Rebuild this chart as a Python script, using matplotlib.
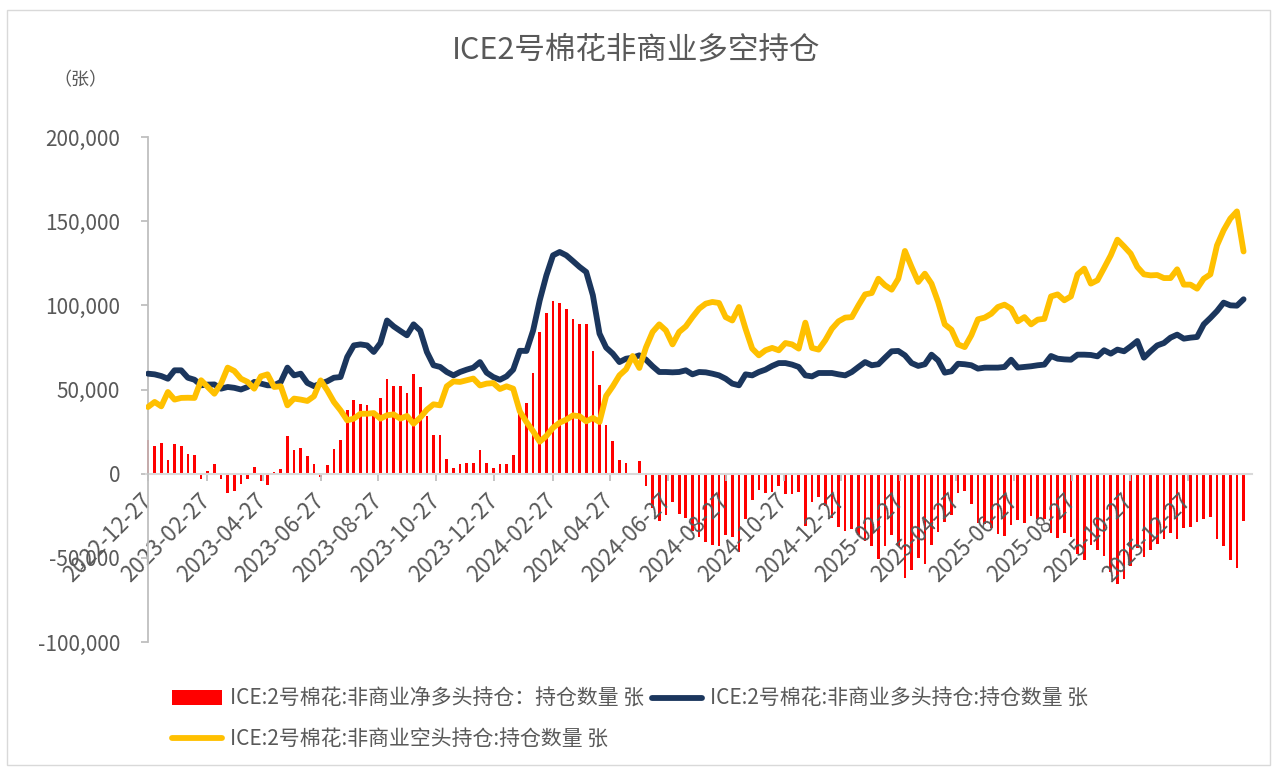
import numpy as np
import pandas as pd
import matplotlib
matplotlib.use('Agg')
import matplotlib.pyplot as plt
import matplotlib.dates as mdates
from matplotlib.patches import Rectangle

plt.rcParams['font.family'] = ['Noto Sans CJK SC', 'DejaVu Sans']
plt.rcParams['axes.unicode_minus'] = False

TEXT = '#595959'
AXIS = '#BFBFBF'

title = 'ICE2号棉花非商业多空持仓'
unit = '（张）'
label_net = 'ICE:2号棉花:非商业净多头持仓：持仓数量 张'
label_long = 'ICE:2号棉花:非商业多头持仓:持仓数量 张'
label_short = 'ICE:2号棉花:非商业空头持仓:持仓数量 张'

# weekly reports starting on this date, values in thousand contracts
first_week = '2022-12-27'

long_k = [59.4, 59.0, 58.0, 56.4, 61.4, 61.4, 57.0, 55.8, 52.5, 52.9,
          53.0, 50.5, 51.5, 51.0, 50.0, 51.5, 54.5, 53.5, 52.5, 52.5,
          54.5, 63.0, 58.4, 59.4, 53.9, 52.0, 53.5, 54.9, 57.0, 57.4,
          69.3, 76.2, 76.8, 76.2, 72.3, 77.6, 91.0, 87.5, 84.8, 82.2,
          88.7, 85.0, 72.3, 64.4, 63.4, 60.4, 58.4, 60.4, 61.8, 63.0,
          66.3, 60.0, 57.4, 55.8, 57.8, 61.8, 73.0, 72.9, 85.0, 103.0,
          117.8, 129.7, 131.7, 129.7, 126.3, 122.8, 119.8, 106.0, 83.2, 74.9,
          71.3, 66.3, 68.3, 68.9, 70.3, 67.7, 63.8, 60.4, 60.4, 60.2,
          60.4, 61.4, 59.0, 60.4, 60.2, 59.4, 58.4, 56.4, 53.5, 52.5,
          59.0, 58.4, 60.4, 61.8, 64.0, 65.7, 65.7, 64.8, 63.4, 58.4,
          57.8, 59.8, 59.8, 59.8, 59.0, 58.4, 60.4, 63.4, 66.3, 64.4,
          65.0, 68.9, 72.7, 72.9, 70.3, 65.7, 64.0, 65.0, 70.7, 67.3,
          60.0, 60.8, 65.3, 65.0, 64.4, 62.4, 63.0, 63.0, 63.0, 63.4,
          67.7, 63.0, 63.4, 63.8, 64.4, 64.8, 69.9, 68.3, 67.9, 67.7,
          70.7, 70.7, 70.5, 69.7, 73.3, 71.3, 73.7, 72.7, 75.6, 78.8,
          68.9, 72.7, 76.2, 77.6, 80.8, 82.6, 80.2, 80.8, 81.2, 88.7,
          92.5, 96.6, 101.6, 100.0, 99.8, 103.6]

short_k = [39.6, 42.6, 40.0, 48.5, 44.0, 45.0, 45.1, 45.0, 55.5, 51.5,
           47.5, 53.5, 63.0, 61.0, 56.4, 54.5, 50.5, 57.8, 59.0, 51.5,
           51.9, 40.6, 44.6, 44.0, 43.2, 46.0, 55.4, 49.5, 42.6, 37.6,
           31.7, 32.7, 35.6, 35.6, 36.0, 32.7, 34.7, 35.2, 32.7, 34.3,
           29.7, 33.3, 38.0, 41.2, 40.6, 51.9, 54.8, 54.5, 55.5, 56.5,
           52.4, 53.5, 53.8, 50.3, 51.9, 50.5, 37.0, 30.7, 25.2, 19.0,
           22.4, 27.3, 30.3, 32.1, 34.6, 34.1, 31.1, 33.1, 30.7, 46.2,
           51.9, 58.4, 62.0, 69.9, 62.8, 75.0, 84.2, 88.7, 85.1, 76.8,
           84.2, 87.5, 93.0, 98.0, 101.0, 102.0, 101.4, 93.0, 91.0, 99.0,
           86.0, 74.3, 70.3, 73.3, 74.7, 73.3, 77.6, 76.8, 74.3, 89.7,
           74.7, 73.7, 79.2, 86.1, 90.5, 92.7, 93.0, 100.0, 106.5, 107.3,
           115.8, 111.9, 109.3, 115.8, 132.3, 122.8, 113.9, 118.8, 112.9, 102.0,
           88.7, 85.5, 76.8, 75.2, 82.2, 91.7, 92.7, 95.0, 99.0, 100.4,
           98.0, 90.5, 93.0, 88.7, 91.5, 92.0, 105.3, 106.5, 103.0, 105.3,
           118.4, 121.8, 112.9, 114.9, 122.2, 129.7, 139.0, 135.0, 130.7, 122.8,
           118.4, 117.8, 118.0, 116.2, 116.2, 121.4, 112.3, 112.3, 109.9, 115.8,
           118.4, 135.6, 144.6, 151.5, 155.8, 132.0]

net_k = [19.8, 16.4, 18.0, 7.9, 17.4, 16.4, 11.9, 10.8, -3.0, 1.4,
         5.5, -3.0, -11.5, -10.0, -6.4, -3.0, 4.0, -4.3, -6.5, 1.0,
         2.6, 22.4, 13.8, 15.4, 10.7, 6.0, -1.9, 5.4, 14.4, 19.8,
         37.6, 43.5, 41.2, 40.6, 36.3, 44.9, 56.3, 52.3, 52.1, 47.9,
         59.0, 51.7, 34.3, 23.2, 22.8, 8.5, 3.6, 5.9, 6.3, 6.5,
         13.9, 6.5, 3.6, 5.5, 5.9, 11.3, 36.0, 42.2, 59.8, 84.0,
         95.4, 102.4, 101.4, 97.6, 91.7, 88.7, 88.7, 72.9, 52.5, 28.7,
         19.4, 7.9, 6.3, -1.0, 7.5, -7.3, -20.4, -28.3, -24.7, -16.6,
         -23.8, -26.1, -34.0, -37.6, -40.8, -42.6, -43.0, -36.6, -37.5, -46.5,
         -27.0, -15.9, -9.9, -11.5, -10.7, -7.6, -11.9, -12.0, -10.9, -31.3,
         -16.9, -13.9, -19.4, -26.3, -31.5, -34.3, -32.6, -36.6, -40.2, -42.9,
         -50.8, -43.0, -36.6, -42.9, -62.0, -57.1, -49.9, -53.8, -42.2, -34.7,
         -28.7, -24.7, -11.5, -10.2, -17.8, -29.3, -29.7, -32.0, -36.0, -37.0,
         -30.3, -27.5, -29.6, -24.9, -27.1, -27.2, -35.4, -38.2, -35.1, -37.6,
         -47.7, -51.1, -42.4, -45.2, -48.9, -58.4, -65.3, -62.3, -55.1, -44.0,
         -49.5, -45.1, -41.8, -38.6, -35.4, -38.8, -32.1, -31.5, -28.7, -27.1,
         -25.9, -39.0, -43.0, -51.5, -56.0, -28.4]

xtick_labels = ['2022-12-27', '2023-02-27', '2023-04-27', '2023-06-27', '2023-08-27',
                '2023-10-27', '2023-12-27', '2024-02-27', '2024-04-27', '2024-06-27',
                '2024-08-27', '2024-10-27', '2024-12-27', '2025-02-27', '2025-04-27',
                '2025-06-27', '2025-08-27', '2025-10-27', '2025-12-27']
yticks = [-100000, -50000, 0, 50000, 100000, 150000, 200000]

weeks = pd.date_range(first_week, periods=len(long_k), freq='7D')
long_pos = np.array(long_k) * 1000
short_pos = np.array(short_k) * 1000
net_pos = np.array(net_k) * 1000

W, H = 1272, 767
fig = plt.figure(figsize=(W / 100, H / 100), dpi=100)
ax = fig.add_axes([146 / W, 1 - 642 / H, (1252 - 146) / W, (642 - 137) / H])

bars = ax.bar(weeks, net_pos, width=2.8, color='#FF0000', label=label_net, zorder=1)
l_long, = ax.plot(weeks, long_pos, color='#1B365D', lw=4.2, solid_joinstyle='round',
                  solid_capstyle='round', label=label_long, zorder=3)
l_short, = ax.plot(weeks, short_pos, color='#FFC000', lw=4.2, solid_joinstyle='round',
                   solid_capstyle='round', label=label_short, zorder=4)

x0 = mdates.date2num(weeks[0])
ax.set_xlim(x0 - 2.1, x0 + 1163.9)
ax.set_ylim(-100000, 200000)

for s in ['top', 'right']:
    ax.spines[s].set_visible(False)
ax.spines['left'].set_position(('data', x0))
ax.spines['left'].set_color(AXIS)
ax.spines['left'].set_linewidth(1.3)
ax.spines['bottom'].set_position(('data', 0))
ax.spines['bottom'].set_color('#D9D9D9')
ax.spines['bottom'].set_linewidth(1.5)
ax.spines['bottom'].set_zorder(2)

ax.set_yticks(yticks)
ax.set_yticklabels([f'{v:,}' for v in yticks])
ax.tick_params(axis='y', colors=AXIS, labelcolor=TEXT, labelsize=15, length=5, width=1.3, pad=15)

ax.set_xticks(pd.to_datetime(xtick_labels))
ax.set_xticklabels(xtick_labels, rotation=45, ha='right', va='center', rotation_mode='anchor')
ax.tick_params(axis='x', colors=AXIS, labelcolor=TEXT, labelsize=16, length=5, width=1.3, pad=12)

fig.text(0.5, 1 - 50 / H, title, ha='center', va='center', fontsize=22, color=TEXT)
fig.text(53 / W, 1 - 80 / H, unit, ha='left', va='center', fontsize=13, color=TEXT)

fig.legend([bars, l_short, l_long], [label_net, label_short, label_long],
           ncol=2, loc='upper left', bbox_to_anchor=(172 / W, 1 - 688 / H),
           frameon=False, fontsize=15, labelcolor=TEXT, handlelength=2.4,
           handletextpad=0.4, columnspacing=0.35, labelspacing=0.9,
           borderpad=0, borderaxespad=0)

fig.patches.append(Rectangle((7 / W, 1 - 765 / H), (1270 - 7) / W, (765 - 10) / H,
                             transform=fig.transFigure, fill=False,
                             edgecolor='#D9D9D9', lw=1))

fig.savefig('out.png', dpi=100)
